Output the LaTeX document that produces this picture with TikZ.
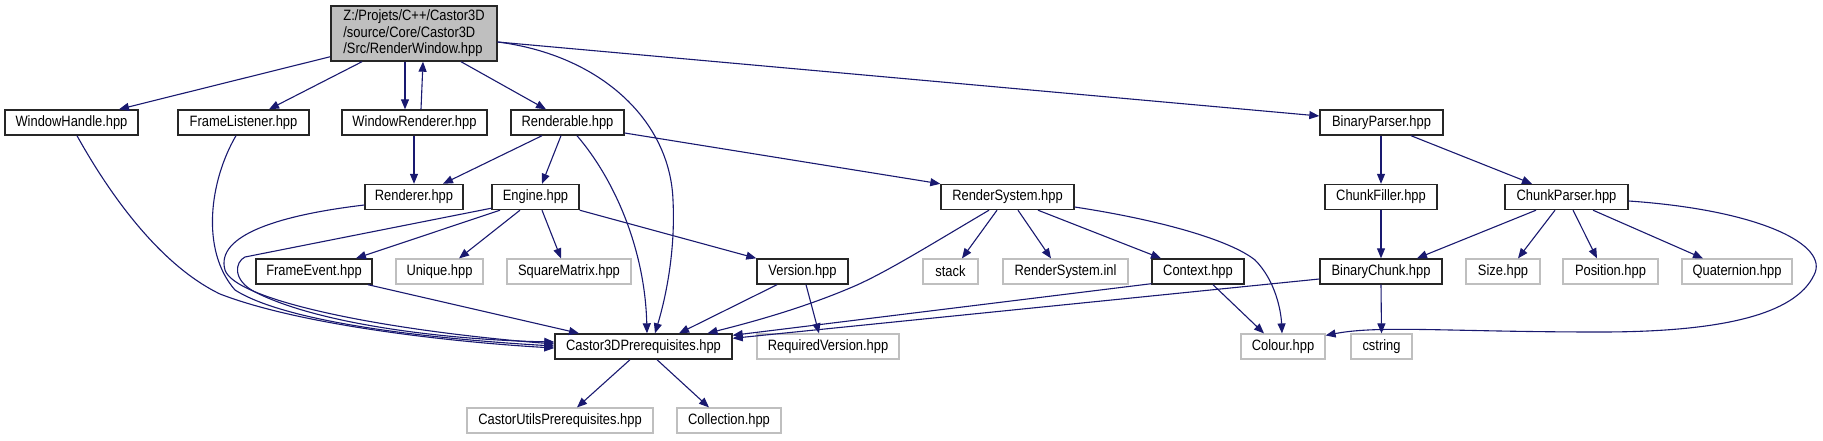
\documentclass[tikz,border=0pt]{standalone}
\usepackage{fontspec}
\setmainfont{Liberation Sans}[FakeStretch=0.86]
\usetikzlibrary{arrows.meta}
\definecolor{edgecol}{HTML}{191970}
\definecolor{grey75}{HTML}{BFBFBF}
\begin{document}
\begin{tikzpicture}[x=1pt,y=-1pt,
 every node/.style={font=\fontsize{15pt}{16.5pt}\selectfont, inner sep=0pt, minimum height=25pt},
 doc/.style={draw=black!85, line width=1.4pt, fill=white, text=black},
 undoc/.style={draw=grey75, line width=1.2pt, fill=white, text=black},
 edge/.style={draw=edgecol, line width=1.1pt, -{Triangle[length=10pt,width=8pt]}},
]
\useasboundingbox[fill=white] (0,0) rectangle (1823,440);
\node[fill=grey75, draw=black!85, line width=1.4pt, minimum width=166pt, minimum height=55pt, align=left] (root) at (414,33.5) {Z:/Projets/C++/Castor3D\\/source/Core/Castor3D\\/Src/RenderWindow.hpp};
\node[doc, minimum width=133pt] (wh) at (71.5,122.5) {WindowHandle.hpp};
\node[doc, minimum width=131pt] (fl) at (243.5,122.5) {FrameListener.hpp};
\node[doc, minimum width=145pt] (wr) at (414.5,122.5) {WindowRenderer.hpp};
\node[doc, minimum width=113pt] (rbl) at (567.5,122.5) {Renderable.hpp};
\node[doc, minimum width=123pt] (bp) at (1381.5,122.5) {BinaryParser.hpp};
\node[doc, minimum width=98pt] (rdr) at (414,197) {Renderer.hpp};
\node[doc, minimum width=87pt] (eng) at (535.5,197) {Engine.hpp};
\node[doc, minimum width=133pt] (rs) at (1007.5,197) {RenderSystem.hpp};
\node[doc, minimum width=112pt] (cf) at (1381,197) {ChunkFiller.hpp};
\node[doc, minimum width=123pt] (cp) at (1566.5,197) {ChunkParser.hpp};
\node[doc, minimum width=116pt] (fe) at (314,271.5) {FrameEvent.hpp};
\node[undoc, minimum width=87pt] (uq) at (439.5,271.5) {Unique.hpp};
\node[undoc, minimum width=124pt] (sm) at (569,271.5) {SquareMatrix.hpp};
\node[doc, minimum width=91pt] (ver) at (802.5,271.5) {Version.hpp};
\node[undoc, minimum width=55pt] (stk) at (950.5,271.5) {stack};
\node[undoc, minimum width=125pt] (rsi) at (1065.5,271.5) {RenderSystem.inl};
\node[doc, minimum width=92pt] (ctx) at (1198,271.5) {Context.hpp};
\node[doc, minimum width=122pt] (bc) at (1381,271.5) {BinaryChunk.hpp};
\node[undoc, minimum width=74pt] (sz) at (1503,271.5) {Size.hpp};
\node[undoc, minimum width=95pt] (pos) at (1610.5,271.5) {Position.hpp};
\node[undoc, minimum width=110pt] (qt) at (1737,271.5) {Quaternion.hpp};
\node[doc, minimum width=177pt] (c3d) at (643.5,346.5) {Castor3DPrerequisites.hpp};
\node[undoc, minimum width=142pt] (rv) at (828,346.5) {RequiredVersion.hpp};
\node[undoc, minimum width=84pt] (col) at (1283,346.5) {Colour.hpp};
\node[undoc, minimum width=61pt] (cs) at (1381.5,346.5) {cstring};
\node[undoc, minimum width=186pt] (cu) at (560,420.5) {CastorUtilsPrerequisites.hpp};
\node[undoc, minimum width=104pt] (coll) at (729,420.5) {Collection.hpp};
% edges
\draw[edge] ([yshift=5pt]root.south west) -- ([xshift=47.5pt]wh.north);
\draw[edge] ([xshift=-52pt]root.south) -- ([xshift=25.5pt]fl.north);
\draw[edge] ([xshift=-9pt]root.south) -- ([xshift=-9.5pt]wr.north);
\draw[edge] ([xshift=6.5pt]wr.north) -- ([xshift=9pt]root.south);
\draw[edge] ([xshift=47pt]root.south) -- ([xshift=-21.5pt]rbl.north);
\draw[edge] ([yshift=-8.5pt]root.east) .. controls (600,55) and (670,120) .. (673,200) .. controls (676,260) and (662,310) .. ([xshift=11.5pt]c3d.north);
\draw[edge] ([yshift=-8.5pt]root.east) -- ([yshift=6.5pt]bp.west);
\draw[edge] ([xshift=5.5pt]wh.south) .. controls (110,195) and (160,265) .. (220,294) .. controls (300,325) and (450,342) .. ([yshift=-1.5pt]c3d.west);
\draw[edge] ([xshift=-7.5pt]fl.south) .. controls (210,180) and (200,250) .. (235,290) .. controls (290,325) and (450,340) .. ([yshift=0.5pt]c3d.west);
\draw[edge] ([xshift=-0.5pt]wr.south) -- (rdr.north);
\draw[edge] ([xshift=-25.5pt]rbl.south) -- ([xshift=29pt]rdr.north);
\draw[edge] ([xshift=-6.5pt]rbl.south) -- ([xshift=6.5pt]eng.north);
\draw[edge] ([xshift=9.5pt]rbl.south) .. controls (615,180) and (645,250) .. ([xshift=3.5pt]c3d.north);
\draw[edge] ([yshift=-10.5pt]rbl.east) -- (rs.north west);
\draw[edge] ([yshift=-8pt]rdr.west) .. controls (280,215) and (215,235) .. (225,270) .. controls (235,300) and (380,330) .. ([yshift=2.5pt]c3d.west);
\draw[edge] ([yshift=2pt]eng.south west) -- (245,257) .. controls (235,262) and (232,280) .. (255,292) .. controls (320,325) and (450,340) .. ([yshift=4.5pt]c3d.west);
\draw[edge] ([xshift=-35.5pt]eng.south) -- ([xshift=42pt]fe.north);
\draw[edge] ([xshift=-15.5pt]eng.south) -- ([xshift=19.5pt]uq.north);
\draw[edge] ([xshift=6.5pt]eng.south) -- ([xshift=-8pt]sm.north);
\draw[edge] (eng.south east) -- (ver.north west);
\draw[edge] ([xshift=54pt]fe.south) -- ([xshift=-64.5pt]c3d.north);
\draw[edge] ([xshift=-25.5pt]ver.south) -- ([xshift=35.5pt]c3d.north);
\draw[edge] ([xshift=3.5pt]ver.south) -- ([xshift=-9pt]rv.north);
\draw[edge] ([xshift=-18.5pt]rs.south) .. controls (930,245) and (890,270) .. (857,285) .. controls (800,310) and (740,325) .. ([xshift=64pt]c3d.north);
\draw[edge] ([xshift=-10.5pt]rs.south) -- ([xshift=11.5pt]stk.north);
\draw[edge] ([xshift=10.5pt]rs.south) -- ([xshift=-14.5pt]rsi.north);
\draw[edge] ([xshift=30.5pt]rs.south) -- ([xshift=-37pt]ctx.north);
\draw[edge] ([yshift=-10pt]rs.east) .. controls (1160,220) and (1230,240) .. (1255,260) .. controls (1275,280) and (1281,310) .. ([xshift=-1pt]col.north);
\draw[edge] ([yshift=1pt]ctx.south west) -- ([yshift=-2pt]c3d.north east);
\draw[edge] ([xshift=15pt]ctx.south) -- ([xshift=-19pt]col.north);
\draw[edge] ([yshift=-7.5pt]bc.west) -- ([yshift=-5pt]c3d.north east);
\draw[edge] ([xshift=-0.5pt]bp.south) -- (cf.north);
\draw[edge] ([xshift=29.5pt]bp.south) -- ([xshift=-34.5pt]cp.north);
\draw[edge] (cf.south) -- (bc.north);
\draw[edge] ([xshift=-30.5pt]cp.south) -- ([xshift=36pt]bc.north);
\draw[edge] ([xshift=-11.5pt]cp.south) -- ([xshift=15pt]sz.north);
\draw[edge] ([xshift=6.5pt]cp.south) -- ([xshift=-13.5pt]pos.north);
\draw[edge] ([xshift=26.5pt]cp.south) -- ([xshift=-34pt]qt.north);
\draw[edge] ([yshift=-4pt]cp.east) .. controls (1760,210) and (1830,245) .. (1814,275) .. controls (1795,315) and (1720,332) .. (1600,332) .. controls (1450,332) and (1380,325) .. ([yshift=-2pt]col.north east);
\draw[edge] (bc.south) -- (cs.north);
\draw[edge] ([xshift=-13.5pt]c3d.south) -- ([xshift=17pt]cu.north);
\draw[edge] ([xshift=13.5pt]c3d.south) -- ([xshift=-20pt]coll.north);
\end{tikzpicture}
\end{document}
